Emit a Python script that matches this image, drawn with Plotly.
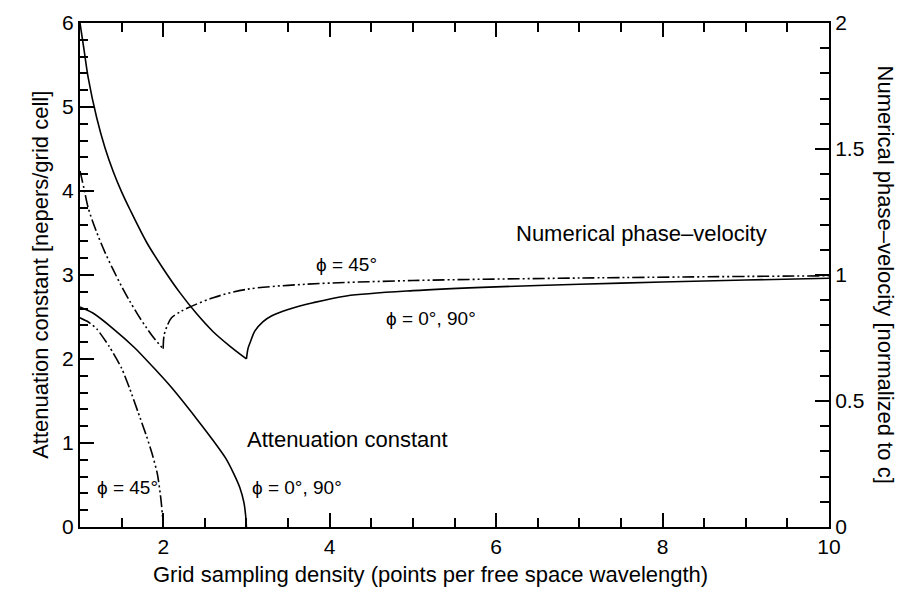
import plotly.graph_objects as go

# attenuation constant [nepers/grid cell], left axis
att0_x = [1.0, 1.15, 1.4, 1.65, 1.9, 2.1, 2.4, 2.6, 2.75, 2.85, 2.92, 2.97, 2.99, 3.0]
att0_y = [2.62, 2.55, 2.36, 2.14, 1.88, 1.66, 1.29, 1.03, 0.82, 0.63, 0.47, 0.29, 0.14, 0.0]
att45_x = [1.0, 1.1, 1.2, 1.35, 1.5, 1.6, 1.7, 1.8, 1.87, 1.93, 1.97, 1.99, 2.0]
att45_y = [2.49, 2.44, 2.36, 2.15, 1.89, 1.64, 1.36, 1.08, 0.86, 0.63, 0.35, 0.15, 0.0]

# numerical phase velocity [normalized to c], right axis
vp0_x = [1.0, 1.05, 1.1, 1.2, 1.3, 1.4, 1.5, 1.6, 1.8, 2.0, 2.2, 2.4, 2.6, 2.8, 3.0,
         3.02, 3.05, 3.1, 3.2, 3.3, 3.5, 3.8, 4.2, 5.0, 6.0, 7.0, 8.0, 9.0, 10.0]
vp0_y = [2.0, 1.89, 1.78, 1.625, 1.505, 1.41, 1.33, 1.26, 1.13, 1.025, 0.93, 0.847, 0.775, 0.718, 0.667,
         0.71, 0.737, 0.777, 0.815, 0.837, 0.863, 0.89, 0.917, 0.938, 0.953, 0.963, 0.972, 0.98, 0.987]
vp45_x = [1.0, 1.05, 1.1, 1.2, 1.3, 1.4, 1.5, 1.6, 1.7, 1.8, 1.9, 2.0,
          2.01, 2.05, 2.1, 2.2, 2.3, 2.6, 3.0, 3.7, 5.0, 7.0, 10.0]
vp45_y = [1.413, 1.34, 1.265, 1.17, 1.09, 1.02, 0.955, 0.895, 0.84, 0.79, 0.745, 0.707,
          0.76, 0.80, 0.83, 0.853, 0.87, 0.91, 0.943, 0.963, 0.978, 0.988, 0.997]

FONT = "Liberation Sans, Arial, sans-serif"
DASH45 = "12px,3px,2px,3px,2px,3px"


def split_at_min(xs, ys):
    # break the phase-velocity curves at their cusp so the spline keeps the corner
    i = ys.index(min(ys))
    return (xs[:i + 1], ys[:i + 1]), (xs[i:], ys[i:])


fig = go.Figure()

att_solid = dict(color="black", width=1.6, shape="spline", smoothing=0.6)
att_dash = dict(color="black", width=1.6, shape="spline", smoothing=0.6, dash=DASH45)
vp_solid = dict(color="black", width=1.6, shape="spline", smoothing=0.9)
vp_dash = dict(color="black", width=1.6, shape="spline", smoothing=0.9, dash=DASH45)

fig.add_trace(go.Scatter(x=att0_x, y=att0_y, mode="lines", line=att_solid))
fig.add_trace(go.Scatter(x=att45_x, y=att45_y, mode="lines", line=att_dash))

for part in split_at_min(vp0_x, vp0_y):
    fig.add_trace(go.Scatter(x=part[0], y=part[1], mode="lines", line=vp_solid, yaxis="y2"))
for part in split_at_min(vp45_x, vp45_y):
    fig.add_trace(go.Scatter(x=part[0], y=part[1], mode="lines", line=vp_dash, yaxis="y2"))

axis_common = dict(
    showline=True, linewidth=2, linecolor="black",
    ticks="inside", ticklen=14, tickwidth=1.5, tickcolor="black",
    showgrid=False, zeroline=False, automargin=False,
    tickfont=dict(family=FONT, size=21, color="black"),
)

fig.update_layout(
    width=909, height=597,
    margin=dict(l=72, r=88, t=15, b=78),
    paper_bgcolor="white", plot_bgcolor="white",
    showlegend=False,
    font=dict(family=FONT, color="black"),
    xaxis=dict(range=[1, 10], tickmode="linear", tick0=0, dtick=2, mirror="ticks",
               minor=dict(ticks="inside", ticklen=9, tickwidth=1.5, tickcolor="black",
                          tick0=0, dtick=0.5),
               **axis_common),
    yaxis=dict(range=[0, 6], tickmode="linear", tick0=0, dtick=1,
               minor=dict(ticks="inside", ticklen=8, tickwidth=1.5, tickcolor="black",
                          tick0=0, dtick=0.2),
               **axis_common),
    yaxis2=dict(range=[0, 2], overlaying="y", side="right", tickmode="linear", tick0=0, dtick=0.5,
                minor=dict(ticks="inside", ticklen=9, tickwidth=1.5, tickcolor="black",
                           tick0=0, dtick=0.1),
                **axis_common),
)

ann_font = dict(family=FONT, size=22, color="black")
phi_font = dict(family=FONT, size=19, color="black")

fig.add_annotation(x=7.75, y=3.49, text="Numerical phase\u2013velocity", showarrow=False, font=ann_font)
fig.add_annotation(x=4.2, y=3.12, text="\u03d5 = 45\u00b0", showarrow=False, font=phi_font)
fig.add_annotation(x=5.22, y=2.48, text="\u03d5 = 0\u00b0, 90\u00b0", showarrow=False, font=phi_font)
fig.add_annotation(x=4.21, y=1.04, text="Attenuation constant", showarrow=False, font=ann_font)
fig.add_annotation(x=1.57, y=0.47, text="\u03d5 = 45\u00b0", showarrow=False, font=phi_font)
fig.add_annotation(x=3.61, y=0.47, text="\u03d5 = 0\u00b0, 90\u00b0", showarrow=False, font=phi_font)

# axis titles
title_font = dict(family=FONT, size=22, color="black")
fig.add_annotation(xref="paper", yref="paper", x=0.468, y=-0.123,
                   text="Grid sampling density (points per free space wavelength)",
                   showarrow=False, font=title_font)
fig.add_annotation(xref="paper", yref="paper", x=-0.073, y=0.5, textangle=-90,
                   text="Attenuation constant [nepers/grid cell]",
                   showarrow=False, font=title_font)
fig.add_annotation(xref="paper", yref="paper", x=1.096, y=0.5, textangle=90,
                   text="Numerical phase\u2013velocity [normalized to c]",
                   showarrow=False, font=title_font)

fig.write_html("out.html")
